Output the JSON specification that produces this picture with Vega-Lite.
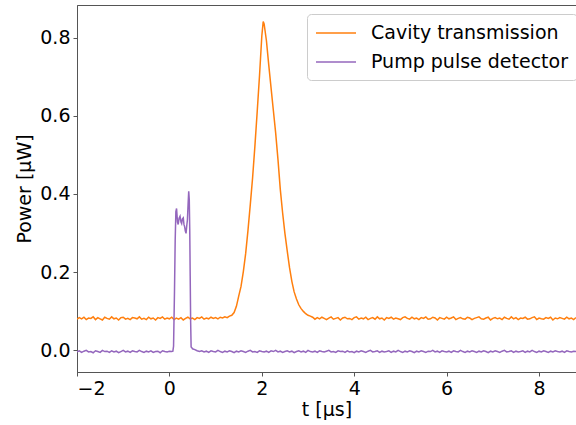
{
"$schema": "https://vega.github.io/schema/vega-lite/v6.json",
"width": 499, "height": 367,
"autosize": {"type": "none"},
"padding": {"left": 77, "top": 5, "right": 0, "bottom": 53},
"datasets": {
"cavity": [
{"t":-2.00,"p":0.079},{"t":-1.95,"p":0.083},{"t":-1.90,"p":0.080},{"t":-1.85,"p":0.084},{"t":-1.80,"p":0.078},{"t":-1.75,"p":0.082},{"t":-1.70,"p":0.081},{"t":-1.65,"p":0.085},{"t":-1.60,"p":0.078},{"t":-1.55,"p":0.083},{"t":-1.50,"p":0.080},{"t":-1.45,"p":0.077},{"t":-1.40,"p":0.084},{"t":-1.35,"p":0.081},{"t":-1.30,"p":0.079},{"t":-1.25,"p":0.085},{"t":-1.20,"p":0.080},{"t":-1.15,"p":0.082},{"t":-1.10,"p":0.077},{"t":-1.05,"p":0.083},{"t":-1.00,"p":0.084},{"t":-0.95,"p":0.079},{"t":-0.90,"p":0.081},{"t":-0.85,"p":0.078},{"t":-0.80,"p":0.083},{"t":-0.75,"p":0.082},{"t":-0.70,"p":0.080},{"t":-0.65,"p":0.085},{"t":-0.60,"p":0.079},{"t":-0.55,"p":0.081},{"t":-0.50,"p":0.078},{"t":-0.45,"p":0.084},{"t":-0.40,"p":0.080},{"t":-0.35,"p":0.082},{"t":-0.30,"p":0.077},{"t":-0.25,"p":0.083},{"t":-0.20,"p":0.081},{"t":-0.15,"p":0.085},{"t":-0.10,"p":0.079},{"t":-0.05,"p":0.082},{"t":0.00,"p":0.080},{"t":0.05,"p":0.084},{"t":0.10,"p":0.078},{"t":0.15,"p":0.082},{"t":0.20,"p":0.079},{"t":0.25,"p":0.083},{"t":0.30,"p":0.077},{"t":0.35,"p":0.081},{"t":0.40,"p":0.084},{"t":0.45,"p":0.080},{"t":0.50,"p":0.082},{"t":0.55,"p":0.078},{"t":0.60,"p":0.083},{"t":0.65,"p":0.081},{"t":0.70,"p":0.085},{"t":0.75,"p":0.079},{"t":0.80,"p":0.082},{"t":0.85,"p":0.080},{"t":0.90,"p":0.084},{"t":0.95,"p":0.081},{"t":1.00,"p":0.083},{"t":1.05,"p":0.080},{"t":1.10,"p":0.084},{"t":1.15,"p":0.082},{"t":1.20,"p":0.085},{"t":1.25,"p":0.083},
{"t":1.30,"p":0.087},{"t":1.35,"p":0.089},{"t":1.40,"p":0.096},{"t":1.45,"p":0.112},{"t":1.50,"p":0.138},{"t":1.55,"p":0.163},{"t":1.60,"p":0.201},{"t":1.65,"p":0.247},{"t":1.70,"p":0.306},{"t":1.75,"p":0.372},{"t":1.80,"p":0.441},{"t":1.85,"p":0.522},{"t":1.90,"p":0.611},{"t":1.95,"p":0.703},{"t":2.00,"p":0.805},{"t":2.03,"p":0.842},{"t":2.05,"p":0.836},{"t":2.10,"p":0.793},{"t":2.15,"p":0.731},{"t":2.20,"p":0.672},{"t":2.25,"p":0.614},{"t":2.30,"p":0.556},{"t":2.35,"p":0.488},{"t":2.40,"p":0.412},{"t":2.45,"p":0.352},{"t":2.50,"p":0.299},{"t":2.55,"p":0.254},{"t":2.60,"p":0.211},{"t":2.65,"p":0.176},{"t":2.70,"p":0.149},{"t":2.75,"p":0.131},{"t":2.80,"p":0.116},{"t":2.85,"p":0.106},{"t":2.90,"p":0.099},{"t":2.95,"p":0.093},{"t":3.00,"p":0.089},{"t":3.05,"p":0.087},{"t":3.10,"p":0.084},
{"t":3.15,"p":0.079},{"t":3.20,"p":0.083},{"t":3.25,"p":0.080},{"t":3.30,"p":0.084},{"t":3.35,"p":0.081},{"t":3.40,"p":0.078},{"t":3.45,"p":0.082},{"t":3.50,"p":0.085},{"t":3.55,"p":0.079},{"t":3.60,"p":0.081},{"t":3.65,"p":0.083},{"t":3.70,"p":0.077},{"t":3.75,"p":0.082},{"t":3.80,"p":0.084},{"t":3.85,"p":0.080},{"t":3.90,"p":0.081},{"t":3.95,"p":0.078},{"t":4.00,"p":0.083},{"t":4.05,"p":0.085},{"t":4.10,"p":0.079},{"t":4.15,"p":0.082},{"t":4.20,"p":0.080},{"t":4.25,"p":0.084},{"t":4.30,"p":0.078},{"t":4.35,"p":0.081},{"t":4.40,"p":0.083},{"t":4.45,"p":0.079},{"t":4.50,"p":0.085},{"t":4.55,"p":0.080},{"t":4.60,"p":0.082},{"t":4.65,"p":0.077},{"t":4.70,"p":0.083},{"t":4.75,"p":0.081},{"t":4.80,"p":0.084},{"t":4.85,"p":0.079},{"t":4.90,"p":0.082},{"t":4.95,"p":0.080},{"t":5.00,"p":0.078},{"t":5.05,"p":0.083},{"t":5.10,"p":0.085},{"t":5.15,"p":0.081},{"t":5.20,"p":0.079},{"t":5.25,"p":0.084},{"t":5.30,"p":0.080},{"t":5.35,"p":0.082},{"t":5.40,"p":0.078},{"t":5.45,"p":0.083},{"t":5.50,"p":0.081},{"t":5.55,"p":0.085},{"t":5.60,"p":0.079},{"t":5.65,"p":0.080},{"t":5.70,"p":0.084},{"t":5.75,"p":0.082},{"t":5.80,"p":0.077},{"t":5.85,"p":0.083},{"t":5.90,"p":0.081},{"t":5.95,"p":0.079},{"t":6.00,"p":0.084},{"t":6.05,"p":0.080},{"t":6.10,"p":0.082},{"t":6.15,"p":0.085},{"t":6.20,"p":0.078},{"t":6.25,"p":0.081},{"t":6.30,"p":0.083},{"t":6.35,"p":0.080},{"t":6.40,"p":0.079},{"t":6.45,"p":0.084},{"t":6.50,"p":0.082},{"t":6.55,"p":0.078},{"t":6.60,"p":0.081},{"t":6.65,"p":0.083},{"t":6.70,"p":0.085},{"t":6.75,"p":0.080},{"t":6.80,"p":0.079},{"t":6.85,"p":0.082},{"t":6.90,"p":0.084},{"t":6.95,"p":0.077},{"t":7.00,"p":0.081},{"t":7.05,"p":0.083},{"t":7.10,"p":0.080},{"t":7.15,"p":0.082},{"t":7.20,"p":0.078},{"t":7.25,"p":0.084},{"t":7.30,"p":0.081},{"t":7.35,"p":0.079},{"t":7.40,"p":0.085},{"t":7.45,"p":0.080},{"t":7.50,"p":0.083},{"t":7.55,"p":0.078},{"t":7.60,"p":0.082},{"t":7.65,"p":0.081},{"t":7.70,"p":0.084},{"t":7.75,"p":0.079},{"t":7.80,"p":0.080},{"t":7.85,"p":0.083},{"t":7.90,"p":0.085},{"t":7.95,"p":0.078},{"t":8.00,"p":0.082},{"t":8.05,"p":0.080},{"t":8.10,"p":0.079},{"t":8.15,"p":0.083},{"t":8.20,"p":0.081},{"t":8.25,"p":0.084},{"t":8.30,"p":0.077},{"t":8.35,"p":0.082},{"t":8.40,"p":0.080},{"t":8.45,"p":0.083},{"t":8.50,"p":0.081},{"t":8.55,"p":0.079},{"t":8.60,"p":0.084},{"t":8.65,"p":0.080},{"t":8.70,"p":0.082},{"t":8.75,"p":0.078},{"t":8.80,"p":0.083}
],
"pump": [
{"t":-2.00,"p":-0.005},{"t":-1.95,"p":-0.002},{"t":-1.90,"p":-0.006},{"t":-1.85,"p":-0.003},{"t":-1.80,"p":-0.001},{"t":-1.75,"p":-0.005},{"t":-1.70,"p":-0.004},{"t":-1.65,"p":-0.007},{"t":-1.60,"p":-0.002},{"t":-1.55,"p":-0.004},{"t":-1.50,"p":-0.006},{"t":-1.45,"p":-0.001},{"t":-1.40,"p":-0.004},{"t":-1.35,"p":-0.003},{"t":-1.30,"p":-0.006},{"t":-1.25,"p":-0.002},{"t":-1.20,"p":-0.005},{"t":-1.15,"p":-0.003},{"t":-1.10,"p":-0.007},{"t":-1.05,"p":-0.004},{"t":-1.00,"p":-0.001},{"t":-0.95,"p":-0.005},{"t":-0.90,"p":-0.003},{"t":-0.85,"p":-0.006},{"t":-0.80,"p":-0.002},{"t":-0.75,"p":-0.004},{"t":-0.70,"p":-0.005},{"t":-0.65,"p":-0.001},{"t":-0.60,"p":-0.004},{"t":-0.55,"p":-0.006},{"t":-0.50,"p":-0.003},{"t":-0.45,"p":-0.005},{"t":-0.40,"p":-0.002},{"t":-0.35,"p":-0.006},{"t":-0.30,"p":-0.004},{"t":-0.25,"p":-0.003},{"t":-0.20,"p":-0.007},{"t":-0.15,"p":-0.002},{"t":-0.10,"p":-0.004},{"t":-0.05,"p":-0.005},{"t":0.00,"p":-0.003},{"t":0.05,"p":-0.004},{"t":0.075,"p":-0.003},
{"t":0.09,"p":0.010},{"t":0.11,"p":0.150},{"t":0.125,"p":0.280},{"t":0.14,"p":0.355},{"t":0.155,"p":0.363},{"t":0.175,"p":0.328},{"t":0.19,"p":0.322},{"t":0.21,"p":0.338},{"t":0.23,"p":0.343},{"t":0.25,"p":0.328},{"t":0.265,"p":0.324},{"t":0.28,"p":0.336},{"t":0.30,"p":0.339},{"t":0.315,"p":0.322},{"t":0.33,"p":0.316},{"t":0.345,"p":0.305},{"t":0.36,"p":0.299},{"t":0.375,"p":0.318},{"t":0.39,"p":0.334},{"t":0.405,"p":0.375},{"t":0.418,"p":0.407},{"t":0.43,"p":0.385},{"t":0.44,"p":0.310},{"t":0.45,"p":0.190},{"t":0.46,"p":0.070},{"t":0.47,"p":0.008},{"t":0.485,"p":0.006},{"t":0.50,"p":0.003},{"t":0.55,"p":0.001},{"t":0.60,"p":-0.002},
{"t":0.65,"p":-0.004},{"t":0.70,"p":-0.002},{"t":0.75,"p":-0.005},{"t":0.80,"p":-0.003},{"t":0.85,"p":-0.006},{"t":0.90,"p":-0.002},{"t":0.95,"p":-0.004},{"t":1.00,"p":-0.005},{"t":1.05,"p":-0.001},{"t":1.10,"p":-0.004},{"t":1.15,"p":-0.006},{"t":1.20,"p":-0.003},{"t":1.25,"p":-0.005},{"t":1.30,"p":-0.002},{"t":1.35,"p":-0.004},{"t":1.40,"p":-0.007},{"t":1.45,"p":-0.003},{"t":1.50,"p":-0.005},{"t":1.55,"p":-0.002},{"t":1.60,"p":-0.004},{"t":1.65,"p":-0.006},{"t":1.70,"p":-0.003},{"t":1.75,"p":-0.001},{"t":1.80,"p":-0.005},{"t":1.85,"p":-0.004},{"t":1.90,"p":-0.006},{"t":1.95,"p":-0.002},{"t":2.00,"p":-0.004},{"t":2.05,"p":-0.005},{"t":2.10,"p":-0.003},{"t":2.15,"p":-0.006},{"t":2.20,"p":-0.002},{"t":2.25,"p":-0.004},{"t":2.30,"p":-0.001},{"t":2.35,"p":-0.005},{"t":2.40,"p":-0.003},{"t":2.45,"p":-0.006},{"t":2.50,"p":-0.004},{"t":2.55,"p":-0.002},{"t":2.60,"p":-0.005},{"t":2.65,"p":-0.003},{"t":2.70,"p":-0.007},{"t":2.75,"p":-0.004},{"t":2.80,"p":-0.002},{"t":2.85,"p":-0.005},{"t":2.90,"p":-0.003},{"t":2.95,"p":-0.006},{"t":3.00,"p":-0.001},{"t":3.05,"p":-0.004},{"t":3.10,"p":-0.005},{"t":3.15,"p":-0.003},{"t":3.20,"p":-0.006},{"t":3.25,"p":-0.002},{"t":3.30,"p":-0.004},{"t":3.35,"p":-0.005},{"t":3.40,"p":-0.003},{"t":3.45,"p":-0.001},{"t":3.50,"p":-0.005},{"t":3.55,"p":-0.004},{"t":3.60,"p":-0.006},{"t":3.65,"p":-0.002},{"t":3.70,"p":-0.004},{"t":3.75,"p":-0.003},{"t":3.80,"p":-0.006},{"t":3.85,"p":-0.002},{"t":3.90,"p":-0.005},{"t":3.95,"p":-0.004},{"t":4.00,"p":-0.007},{"t":4.05,"p":-0.003},{"t":4.10,"p":-0.005},{"t":4.15,"p":-0.002},{"t":4.20,"p":-0.004},{"t":4.25,"p":-0.006},{"t":4.30,"p":-0.003},{"t":4.35,"p":-0.001},{"t":4.40,"p":-0.005},{"t":4.45,"p":-0.004},{"t":4.50,"p":-0.002},{"t":4.55,"p":-0.006},{"t":4.60,"p":-0.003},{"t":4.65,"p":-0.005},{"t":4.70,"p":-0.004},{"t":4.75,"p":-0.002},{"t":4.80,"p":-0.006},{"t":4.85,"p":-0.003},{"t":4.90,"p":-0.005},{"t":4.95,"p":-0.001},{"t":5.00,"p":-0.004},{"t":5.05,"p":-0.006},{"t":5.10,"p":-0.003},{"t":5.15,"p":-0.005},{"t":5.20,"p":-0.002},{"t":5.25,"p":-0.004},{"t":5.30,"p":-0.007},{"t":5.35,"p":-0.003},{"t":5.40,"p":-0.005},{"t":5.45,"p":-0.002},{"t":5.50,"p":-0.004},{"t":5.55,"p":-0.006},{"t":5.60,"p":-0.003},{"t":5.65,"p":-0.004},{"t":5.70,"p":-0.001},{"t":5.75,"p":-0.005},{"t":5.80,"p":-0.003},{"t":5.85,"p":-0.006},{"t":5.90,"p":-0.002},{"t":5.95,"p":-0.004},{"t":6.00,"p":-0.005},{"t":6.05,"p":-0.003},{"t":6.10,"p":-0.006},{"t":6.15,"p":-0.002},{"t":6.20,"p":-0.004},{"t":6.25,"p":-0.005},{"t":6.30,"p":-0.001},{"t":6.35,"p":-0.004},{"t":6.40,"p":-0.006},{"t":6.45,"p":-0.003},{"t":6.50,"p":-0.005},{"t":6.55,"p":-0.002},{"t":6.60,"p":-0.004},{"t":6.65,"p":-0.006},{"t":6.70,"p":-0.003},{"t":6.75,"p":-0.005},{"t":6.80,"p":-0.002},{"t":6.85,"p":-0.004},{"t":6.90,"p":-0.007},{"t":6.95,"p":-0.003},{"t":7.00,"p":-0.005},{"t":7.05,"p":-0.002},{"t":7.10,"p":-0.004},{"t":7.15,"p":-0.006},{"t":7.20,"p":-0.003},{"t":7.25,"p":-0.001},{"t":7.30,"p":-0.005},{"t":7.35,"p":-0.004},{"t":7.40,"p":-0.002},{"t":7.45,"p":-0.006},{"t":7.50,"p":-0.003},{"t":7.55,"p":-0.005},{"t":7.60,"p":-0.004},{"t":7.65,"p":-0.002},{"t":7.70,"p":-0.006},{"t":7.75,"p":-0.003},{"t":7.80,"p":-0.005},{"t":7.85,"p":-0.001},{"t":7.90,"p":-0.004},{"t":7.95,"p":-0.006},{"t":8.00,"p":-0.003},{"t":8.05,"p":-0.005},{"t":8.10,"p":-0.002},{"t":8.15,"p":-0.004},{"t":8.20,"p":-0.006},{"t":8.25,"p":-0.003},{"t":8.30,"p":-0.005},{"t":8.35,"p":-0.002},{"t":8.40,"p":-0.004},{"t":8.45,"p":-0.005},{"t":8.50,"p":-0.003},{"t":8.55,"p":-0.006},{"t":8.60,"p":-0.002},{"t":8.65,"p":-0.004},{"t":8.70,"p":-0.005},{"t":8.75,"p":-0.003},{"t":8.80,"p":-0.004}
]
},
"config": {
"font": "DejaVu Sans",
"view": {"stroke": "#555", "strokeWidth": 1},
"axis": {"grid": false, "domainColor": "#555", "tickColor": "#555", "tickSize": 4, "labelFontSize": 19, "titleFontSize": 19, "labelColor": "#000", "titleColor": "#000", "titleFontWeight": "normal", "labelPadding": 3, "labelFont": "DejaVu Sans", "titleFont": "DejaVu Sans"},
"legend": {"labelFont": "DejaVu Sans"}
},
"encoding": {
"x": {"field": "t", "type": "quantitative", "scale": {"domain": [-2, 8.8], "nice": false, "zero": false}, "axis": {"values": [-2, 0, 2, 4, 6, 8], "format": "d", "labelExpr": "replace(datum.label, '-', '\u2212')", "title": "t [µs]", "titlePadding": 2}},
"y": {"field": "p", "type": "quantitative", "scale": {"domain": [-0.0564, 0.8846], "nice": false, "zero": false}, "axis": {"values": [0, 0.2, 0.4, 0.6, 0.8], "format": ".1f", "title": "Power [µW]", "titlePadding": 5}}
},
"layer": [
{"data": {"name": "cavity"}, "mark": {"type": "line", "clip": true, "strokeWidth": 1.5},
 "encoding": {"color": {"datum": "Cavity transmission", "type": "nominal", "scale": {"domain": ["Cavity transmission", "Pump pulse detector"], "range": ["#ff7f0e", "#9467bd"]},
  "legend": {"title": null, "orient": "none", "legendX": 230, "legendY": 9, "symbolType": "M-2,0L2,0", "symbolSize": 400, "symbolOffset": 10, "symbolStrokeWidth": 1.5, "labelFontSize": 19, "labelColor": "#000", "labelOffset": 24, "labelLimit": 0, "padding": 8, "rowPadding": 8, "strokeColor": "#ccc", "cornerRadius": 4, "fillColor": "#fff"}}}},
{"data": {"name": "pump"}, "mark": {"type": "line", "clip": true, "strokeWidth": 1.5},
 "encoding": {"color": {"datum": "Pump pulse detector", "type": "nominal"}}}
]
}
